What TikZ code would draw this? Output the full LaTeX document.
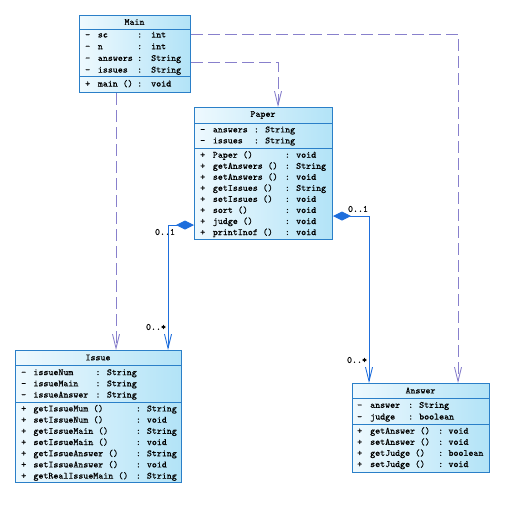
\documentclass[tikz,border=0pt]{standalone}
\usepackage{fontspec}
\newfontfamily\umlf{Latin Modern Mono}[FakeBold=0.25]
\usetikzlibrary{arrows.meta}
\definecolor{bordc}{HTML}{2A7FC8}
\definecolor{solc}{HTML}{1E6EDC}
\definecolor{dashc}{HTML}{8880CC}
\definecolor{boxl}{HTML}{EEF9FE}
\definecolor{boxr}{HTML}{B2E3F7}
\newcommand\cmp[5]{\fontsize{9.5}{#1}\selectfont\begin{tabular}{@{}p{#2}@{}p{#3}@{}p{#4}@{}l@{}}#5\end{tabular}}
\begin{document}
\begin{tikzpicture}[x=1pt,y=-1pt,
  umlbox/.style={draw=bordc, line width=1pt, left color=boxl, right color=boxr, inner sep=0pt, anchor=north west},
  divl/.style={draw=bordc, line width=1pt},
  ttl/.style={font=\umlf\fontsize{9.5}{11}\selectfont, inner sep=0pt},
  cmpt/.style={font=\umlf, inner sep=0pt, anchor=north west},
  lbl/.style={font=\umlf\fontsize{9.5}{11}\selectfont, inner sep=0pt},
  dep/.style={draw=dashc, line width=0.9pt, dash pattern=on 12pt off 5pt, -{Straight Barb[length=14pt,width=7pt]}},
  comp/.style={draw=solc, line width=0.9pt, {Diamond[length=18pt,width=9pt]}-{Straight Barb[length=14pt,width=7pt]}}]
\useasboundingbox[fill=white] (0,0) rectangle (506,506);

% ---------- Main ----------
\node[umlbox, minimum width=111pt, minimum height=77pt] (main) at (79,15) {};
\draw[divl] (79,29.3) -- (190,29.3);
\draw[divl] (79,76.7) -- (190,76.7);
\node[ttl] (mainT) at (134.5,22) {Main};
\node[cmpt] (mainA) at (85,29.15) {\cmp{11.7}{12.7pt}{39.3pt}{14pt}{%
- & sc & : & int\\
- & n & : & int\\
- & answers & : & String\\
- & issues & : & String}};
\node[cmpt] (mainM) at (85,78.15) {\cmp{11.7}{12.7pt}{39.3pt}{14pt}{%
+ & main () & : & void}};

% ---------- Paper ----------
\node[umlbox, minimum width=138pt, minimum height=132pt] (paper) at (194,107) {};
\draw[divl] (194,123) -- (332,123);
\draw[divl] (194,148) -- (332,148);
\node[ttl] (paperT) at (263,115) {Paper};
\node[cmpt] (paperA) at (200,124.5) {\cmp{11}{12.7pt}{41pt}{11.3pt}{%
- & answers & : & String\\
- & issues & : & String}};
\node[cmpt] (paperM) at (200,149.8) {\cmp{11.05}{12.7pt}{72pt}{11.3pt}{%
+ & Paper () & : & void\\
+ & getAnswers () & : & String\\
+ & setAnswers () & : & void\\
+ & getIssues () & : & String\\
+ & setIssues () & : & void\\
+ & sort () & : & void\\
+ & judge () & : & void\\
+ & printInof () & : & void}};

% ---------- Issue ----------
\node[umlbox, minimum width=166pt, minimum height=132pt] (issue) at (15,350) {};
\draw[divl] (15,365) -- (181,365);
\draw[divl] (15,402) -- (181,402);
\node[ttl] (issueT) at (98,357.5) {Issue};
\node[cmpt] (issueA) at (21,367.1) {\cmp{11.2}{12.3pt}{62pt}{11.4pt}{%
- & issueNum & : & String\\
- & issueMain & : & String\\
- & issueAnswer & : & String}};
\node[cmpt] (issueM) at (21,403.4) {\cmp{11.2}{12.3pt}{102.4pt}{11pt}{%
+ & getIssueMum () & : & String\\
+ & setIssueNum () & : & void\\
+ & getIssueMain () & : & String\\
+ & setIssueMain () & : & void\\
+ & getIssueAnswer () & : & String\\
+ & setIssueAnswer () & : & void\\
+ & getRealIssueMain () & : & String}};

% ---------- Answer ----------
\node[umlbox, minimum width=137pt, minimum height=88.5pt] (answer) at (352,383) {};
\draw[divl] (352,398) -- (489,398);
\draw[divl] (352,424.5) -- (489,424.5);
\node[ttl] (answerT) at (420.5,390.5) {Answer};
\node[cmpt] (answerA) at (357,399.45) {\cmp{11.7}{13pt}{38pt}{11pt}{%
- & answer & : & String\\
- & judge & : & boolean}};
\node[cmpt] (answerM) at (357,425.75) {\cmp{11.1}{13pt}{68pt}{10.3pt}{%
+ & getAnswer () & : & void\\
+ & setAnswer () & : & void\\
+ & getJudge () & : & boolean\\
+ & setJudge () & : & void}};

% ---------- connector guides ----------
\coordinate (x116) at (116,0);
\coordinate (x278) at (278,0);
\coordinate (x458) at (458,0);
\coordinate (x168) at (168,0);
\coordinate (x369) at (369,0);
\coordinate (y34) at (0,34);
\coordinate (y62) at (0,62);
\coordinate (y225) at (0,225);
\coordinate (y216) at (0,216);

% dependencies
\draw[dep] (main.south -| x116) -- (issue.north -| x116);
\draw[dep] (main.east |- y62) -| (paper.north -| x278);
\draw[dep] (main.east |- y34) -| (answer.north -| x458);

% compositions
\draw[comp] (paper.west |- y225) -| (issue.north -| x168);
\draw[comp] (paper.east |- y216) -| (answer.north -| x369);

% multiplicities
\node[lbl] (m1) at (165,232) {0..1};
\node[lbl] (m2) at (156,327) {0..*};
\node[lbl] (m3) at (358,209) {0..1};
\node[lbl] (m4) at (357,360) {0..*};
\end{tikzpicture}
\end{document}
